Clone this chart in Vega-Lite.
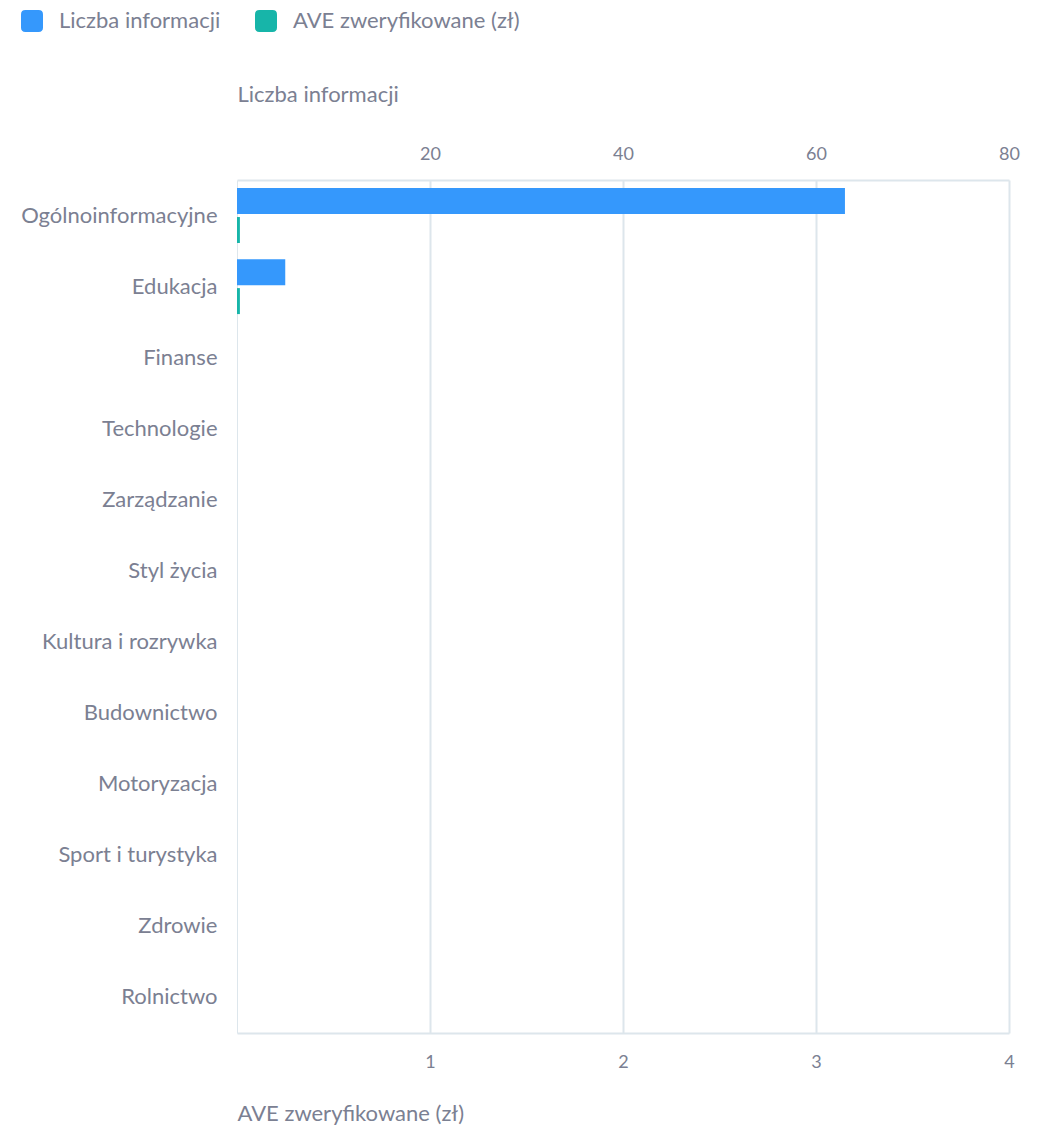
{
  "$schema": "https://vega.github.io/schema/vega-lite/v6.json",
  "width": 772,
  "height": 853,
  "padding": {"left": 20, "top": 10, "right": 30, "bottom": 8},
  "background": "white",
  "config": {
    "font": "Lato",
    "view": {"stroke": null},
    "axis": {"labelColor": "#7b8092", "titleColor": "#7b8092", "labelFont": "Lato", "titleFont": "Lato", "titleFontWeight": "normal"},
    "legend": {"labelColor": "#7b8092", "labelFont": "Lato"}
  },
  "data": {
    "values": [
      {"category": "Ogólnoinformacyjne", "series": "Liczba informacji", "value": 63},
      {"category": "Ogólnoinformacyjne", "series": "AVE zweryfikowane (zł)", "value": 0.015},
      {"category": "Edukacja", "series": "Liczba informacji", "value": 5},
      {"category": "Edukacja", "series": "AVE zweryfikowane (zł)", "value": 0.015},
      {"category": "Finanse", "series": "Liczba informacji", "value": 0},
      {"category": "Finanse", "series": "AVE zweryfikowane (zł)", "value": 0},
      {"category": "Technologie", "series": "Liczba informacji", "value": 0},
      {"category": "Technologie", "series": "AVE zweryfikowane (zł)", "value": 0},
      {"category": "Zarządzanie", "series": "Liczba informacji", "value": 0},
      {"category": "Zarządzanie", "series": "AVE zweryfikowane (zł)", "value": 0},
      {"category": "Styl życia", "series": "Liczba informacji", "value": 0},
      {"category": "Styl życia", "series": "AVE zweryfikowane (zł)", "value": 0},
      {"category": "Kultura i rozrywka", "series": "Liczba informacji", "value": 0},
      {"category": "Kultura i rozrywka", "series": "AVE zweryfikowane (zł)", "value": 0},
      {"category": "Budownictwo", "series": "Liczba informacji", "value": 0},
      {"category": "Budownictwo", "series": "AVE zweryfikowane (zł)", "value": 0},
      {"category": "Motoryzacja", "series": "Liczba informacji", "value": 0},
      {"category": "Motoryzacja", "series": "AVE zweryfikowane (zł)", "value": 0},
      {"category": "Sport i turystyka", "series": "Liczba informacji", "value": 0},
      {"category": "Sport i turystyka", "series": "AVE zweryfikowane (zł)", "value": 0},
      {"category": "Zdrowie", "series": "Liczba informacji", "value": 0},
      {"category": "Zdrowie", "series": "AVE zweryfikowane (zł)", "value": 0},
      {"category": "Rolnictwo", "series": "Liczba informacji", "value": 0},
      {"category": "Rolnictwo", "series": "AVE zweryfikowane (zł)", "value": 0}
    ]
  },
  "encoding": {
    "y": {
      "field": "category", "type": "nominal", "sort": null,
      "scale": {"paddingInner": 0, "paddingOuter": 0},
      "axis": {"title": null, "labelFontSize": 22, "labelPadding": 20, "labelLimit": 400, "ticks": false, "domainColor": "#dde6ec", "grid": false}
    },
    "yOffset": {
      "field": "series", "type": "nominal",
      "sort": ["Liczba informacji", "AVE zweryfikowane (zł)"],
      "scale": {"domain": ["Liczba informacji", "AVE zweryfikowane (zł)"], "paddingInner": 0.103, "paddingOuter": 0.279}
    },
    "color": {
      "field": "series", "type": "nominal",
      "scale": {"domain": ["Liczba informacji", "AVE zweryfikowane (zł)"], "range": ["#3598fc", "#17b5a9"]},
      "legend": {
        "title": null, "orient": "none", "direction": "horizontal",
        "legendX": -216, "legendY": -170,
        "labelFontSize": 22, "labelLimit": 400, "symbolSize": 484,
        "symbolType": "M -0.6,-1 L 0.6,-1 Q 1,-1 1,-0.6 L 1,0.6 Q 1,1 0.6,1 L -0.6,1 Q -1,1 -1,0.6 L -1,-0.6 Q -1,-1 -0.6,-1 Z",
        "symbolStrokeWidth": 0, "symbolOpacity": 1, "labelOffset": 16, "columnPadding": 34
      }
    }
  },
  "layer": [
    {
      "transform": [{"filter": "datum.series === 'Liczba informacji'"}],
      "mark": {"type": "bar"},
      "encoding": {
        "x": {
          "field": "value", "type": "quantitative",
          "scale": {"domain": [0, 80], "nice": false},
          "axis": {
            "orient": "top", "title": "Liczba informacji", "values": [20, 40, 60, 80],
            "titleAnchor": "start", "titleAlign": "left", "titleFontSize": 22, "titlePadding": 39,
            "labelFontSize": 18, "labelPadding": 17, "labelFlush": false, "ticks": false, "tickSize": 0,
            "grid": true, "gridColor": "#dde6ec", "gridWidth": 2, "domainColor": "#dde6ec", "domainWidth": 2
          }
        }
      }
    },
    {
      "transform": [{"filter": "datum.series === 'AVE zweryfikowane (zł)'"}],
      "mark": {"type": "bar"},
      "encoding": {
        "x": {
          "field": "value", "type": "quantitative",
          "scale": {"domain": [0, 4], "nice": false},
          "axis": {
            "orient": "bottom", "title": "AVE zweryfikowane (zł)", "values": [1, 2, 3, 4],
            "titleAnchor": "start", "titleAlign": "left", "titleFontSize": 22, "titlePadding": 32,
            "labelFontSize": 18, "labelPadding": 20, "labelFlush": false, "ticks": false, "tickSize": 0,
            "grid": false, "domainColor": "#dde6ec", "domainWidth": 2
          }
        }
      }
    }
  ],
  "resolve": {"scale": {"x": "independent"}, "axis": {"x": "independent"}}
}
